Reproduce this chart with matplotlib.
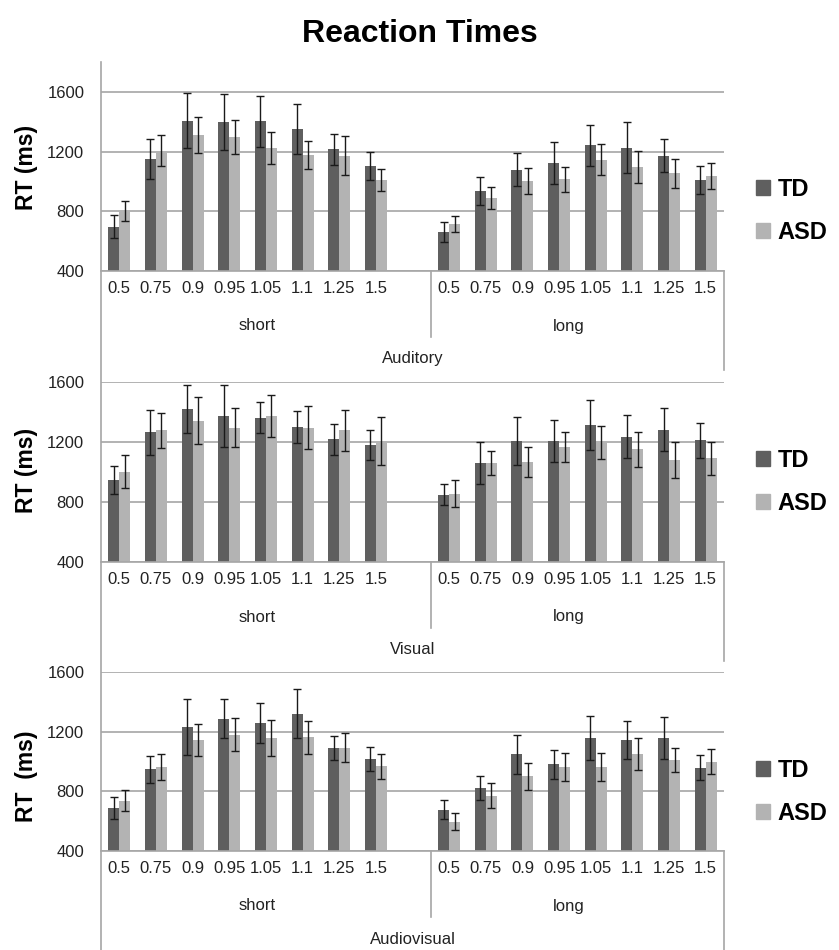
import numpy as np
import matplotlib
matplotlib.use("Agg")
import matplotlib.pyplot as plt
from matplotlib.patches import Patch
from matplotlib.lines import Line2D

plt.rcParams['font.family'] = ['Liberation Sans', 'DejaVu Sans']

ratios = ['0.5', '0.75', '0.9', '0.95', '1.05', '1.1', '1.25', '1.5']
durations = ['short', 'long']
groups = ['TD', 'ASD']

# mean RT (ms), short ratios then long ratios
aud_td = [696, 1151, 1408, 1397, 1402, 1350, 1216, 1104, 660, 938, 1079, 1126, 1243, 1227, 1173, 1012]
aud_td_err = [77, 135, 185, 187, 172, 167, 103, 93, 68, 95, 110, 140, 137, 172, 110, 93]
aud_asd = [801, 1207, 1310, 1299, 1222, 1178, 1173, 1010, 714, 891, 1003, 1014, 1144, 1097, 1054, 1039]
aud_asd_err = [66, 101, 121, 112, 107, 95, 128, 76, 55, 73, 89, 82, 104, 107, 99, 87]

vis_td = [949, 1264, 1418, 1376, 1362, 1300, 1218, 1178, 849, 1060, 1207, 1207, 1311, 1236, 1282, 1213]
vis_td_err = [93, 152, 159, 207, 103, 105, 102, 100, 70, 137, 158, 138, 167, 145, 145, 117]
vis_asd = [1002, 1278, 1342, 1296, 1371, 1296, 1278, 1207, 856, 1060, 1067, 1167, 1198, 1151, 1078, 1091]
vis_asd_err = [111, 115, 158, 130, 140, 145, 135, 161, 90, 77, 100, 100, 108, 115, 121, 108]

av_td = [689, 947, 1233, 1287, 1256, 1320, 1093, 1016, 678, 822, 1047, 982, 1158, 1144, 1158, 958]
av_td_err = [74, 91, 188, 130, 133, 163, 81, 82, 65, 80, 128, 97, 149, 129, 138, 83]
av_asd = [738, 964, 1144, 1180, 1158, 1162, 1093, 969, 596, 771, 900, 964, 964, 1051, 1011, 1000]
av_asd_err = [72, 89, 105, 109, 120, 111, 96, 84, 57, 82, 92, 92, 96, 109, 81, 87]

modalities = ['Auditory', 'Visual', 'Audiovisual']
ylabels = ['RT (ms)', 'RT (ms)', 'RT  (ms)']

td_col = '#5f5f5f'
asd_col = '#b3b3b3'
line_col = '#a6a6a6'
W, H = 839, 950

fig = plt.figure(figsize=(W / 100, H / 100), dpi=100)

# panel boxes in pixels: top, bottom (y from top), ymax
panels = [(62, 271, 1800), (382, 562, 1600), (672, 851, 1600)]
label_y = [167, 470, 776]
legend_y = [211, 482, 792]
left_px, right_px = 101, 724

x = np.array(list(range(8)) + list(range(9, 17)))
series = [(aud_td, aud_td_err, aud_asd, aud_asd_err),
          (vis_td, vis_td_err, vis_asd, vis_asd_err),
          (av_td, av_td_err, av_asd, av_asd_err)]


def fig_line(x0, y0, x1, y1):
    fig.add_artist(Line2D([x0 / W, x1 / W], [1 - y0 / H, 1 - y1 / H],
                          color=line_col, lw=1.2, transform=fig.transFigure))


for i, (top, bot, ymax) in enumerate(panels):
    ax = fig.add_axes([left_px / W, 1 - bot / H, (right_px - left_px) / W, (bot - top) / H])
    td, td_err, asd, asd_err = series[i]
    bw = 0.3
    ax.bar(x - bw / 2, td, bw, color=td_col, zorder=2)
    ax.bar(x + bw / 2, asd, bw, color=asd_col, zorder=2)
    ax.errorbar(x - bw / 2, td, yerr=td_err, fmt='none', ecolor='#1a1a1a',
                elinewidth=1, capsize=3.2, capthick=1, zorder=3)
    ax.errorbar(x + bw / 2, asd, yerr=asd_err, fmt='none', ecolor='#1a1a1a',
                elinewidth=1, capsize=3.2, capthick=1, zorder=3)

    ax.set_xlim(-0.5, 16.5)
    ax.set_ylim(400, ymax)
    ax.set_yticks([400, 800, 1200, 1600])
    ax.set_yticklabels(['400', '800', '1200', '1600'])
    ax.yaxis.grid(True, color=line_col, lw=1.2, zorder=0)
    ax.set_axisbelow(True)
    ax.set_xticks(x)
    ax.set_xticklabels(ratios + ratios)
    ax.tick_params(axis='both', length=0, labelsize=12, colors='#222222')
    ax.tick_params(axis='y', pad=12)
    ax.tick_params(axis='x', pad=7)
    for s in ['top', 'right', 'left']:
        ax.spines[s].set_visible(False)
    ax.spines['bottom'].set_color(line_col)
    ax.spines['bottom'].set_linewidth(1.2)

    # category rows under the axis
    for cx, name in [(3.75, durations[0]), (12.25, durations[1])]:
        ax.annotate(name, xy=(cx, 0), xycoords=('data', 'axes fraction'),
                    xytext=(0, -55), textcoords='offset pixels',
                    ha='center', va='center', fontsize=12, color='#222222')
    ax.annotate(modalities[i], xy=(8, 0), xycoords=('data', 'axes fraction'),
                xytext=(0, -88), textcoords='offset pixels',
                ha='center', va='center', fontsize=12, color='#222222')
    div_px = left_px + 9 * (right_px - left_px) / 17
    fig_line(div_px, bot, div_px, bot + 66)
    fig_line(right_px, bot, right_px, bot + 99)

    fig.text(26 / W, 1 - label_y[i] / H, ylabels[i], rotation=90, ha='center',
             va='center', fontsize=16.5, fontweight='bold')

    handles = [Patch(color=td_col), Patch(color=asd_col)]
    fig.legend(handles, groups, loc='center left',
               bbox_to_anchor=(756 / W, 1 - legend_y[i] / H),
               frameon=False, prop={'weight': 'bold', 'size': 17},
               handlelength=0.6, handleheight=0.6, handletextpad=0.3,
               labelspacing=0.85, borderpad=0, borderaxespad=0)

# continuous left axis line through all panels
fig_line(left_px, 62, left_px, H)

fig.text(0.5, 1 - 34 / H, 'Reaction Times', ha='center', va='center',
         fontsize=23, fontweight='bold')

fig.savefig('out.png', dpi=100)
